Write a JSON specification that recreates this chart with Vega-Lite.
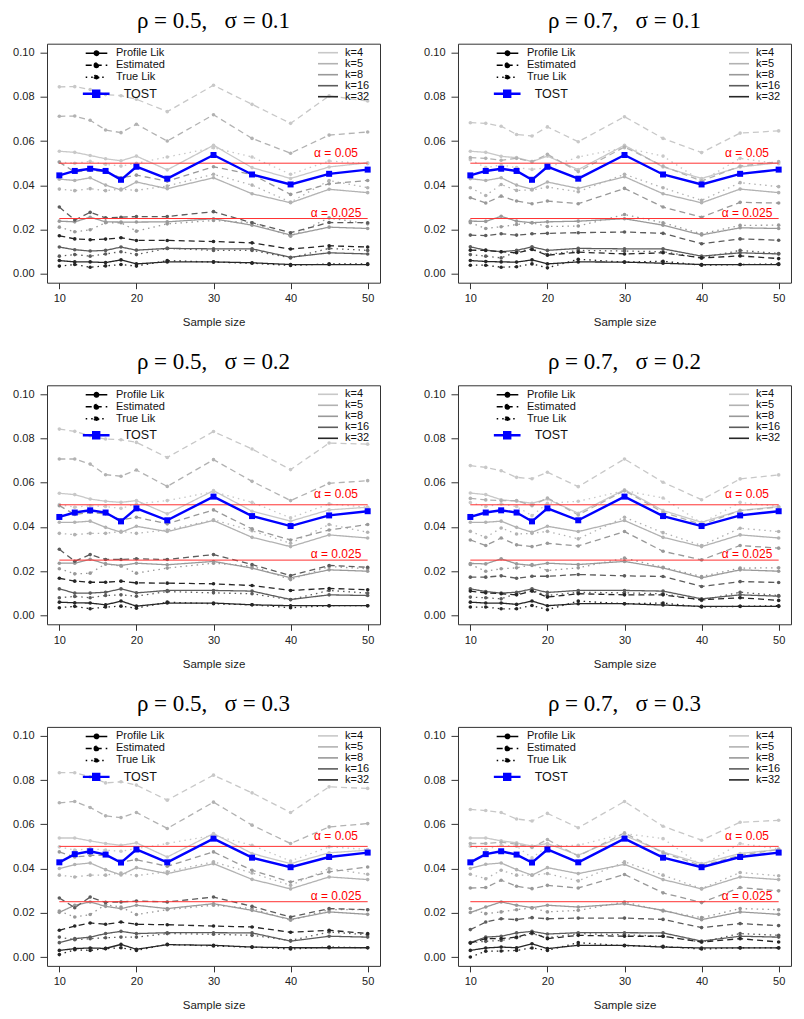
{
"$schema":"https://vega.github.io/schema/vega-lite/v6.json",
"padding":{"left":12,"top":8.7,"right":5,"bottom":0},
"datasets":{
"al":[{"a":0.05},{"a":0.025}],
"a1":[{"a":0.05,"lab":"α = 0.05"}],
"a2":[{"a":0.025,"lab":"α = 0.025"}],
"tA":[{"t":"TOST","n":10,"v":0.0445},{"t":"TOST","n":12,"v":0.0465},{"t":"TOST","n":14,"v":0.0475},{"t":"TOST","n":16,"v":0.0465},{"t":"TOST","n":18,"v":0.0425},{"t":"TOST","n":20,"v":0.0484},{"t":"TOST","n":24,"v":0.0430},{"t":"TOST","n":30,"v":0.0537},{"t":"TOST","n":35,"v":0.0449},{"t":"TOST","n":40,"v":0.0404},{"t":"TOST","n":45,"v":0.0452},{"t":"TOST","n":50,"v":0.0471}],
"tB":[{"t":"TOST","n":10,"v":0.0428},{"t":"TOST","n":12,"v":0.0465},{"t":"TOST","n":14,"v":0.0478},{"t":"TOST","n":16,"v":0.0463},{"t":"TOST","n":18,"v":0.0427},{"t":"TOST","n":20,"v":0.0486},{"t":"TOST","n":24,"v":0.0428},{"t":"TOST","n":30,"v":0.0535},{"t":"TOST","n":35,"v":0.0449},{"t":"TOST","n":40,"v":0.0406},{"t":"TOST","n":45,"v":0.0452},{"t":"TOST","n":50,"v":0.0472}],
"a":[
{"k":4,"m":"P","n":10,"v":0.0554},{"k":4,"m":"P","n":12,"v":0.0549},{"k":4,"m":"P","n":14,"v":0.0535},{"k":4,"m":"P","n":16,"v":0.0520},{"k":4,"m":"P","n":18,"v":0.0511},{"k":4,"m":"P","n":20,"v":0.0532},{"k":4,"m":"P","n":24,"v":0.0470},{"k":4,"m":"P","n":30,"v":0.0581},{"k":4,"m":"P","n":35,"v":0.0480},{"k":4,"m":"P","n":40,"v":0.0431},{"k":4,"m":"P","n":45,"v":0.0483},{"k":4,"m":"P","n":50,"v":0.0502},
{"k":4,"m":"E","n":10,"v":0.0845},{"k":4,"m":"E","n":12,"v":0.0846},{"k":4,"m":"E","n":14,"v":0.0833},{"k":4,"m":"E","n":16,"v":0.0810},{"k":4,"m":"E","n":18,"v":0.0805},{"k":4,"m":"E","n":20,"v":0.0789},{"k":4,"m":"E","n":24,"v":0.0733},{"k":4,"m":"E","n":30,"v":0.0852},{"k":4,"m":"E","n":35,"v":0.0766},{"k":4,"m":"E","n":40,"v":0.0680},{"k":4,"m":"E","n":45,"v":0.0804},{"k":4,"m":"E","n":50,"v":0.0781},
{"k":4,"m":"T","n":10,"v":0.0505},{"k":4,"m":"T","n":12,"v":0.0500},{"k":4,"m":"T","n":14,"v":0.0508},{"k":4,"m":"T","n":16,"v":0.0495},{"k":4,"m":"T","n":18,"v":0.0487},{"k":4,"m":"T","n":20,"v":0.0500},{"k":4,"m":"T","n":24,"v":0.0528},{"k":4,"m":"T","n":30,"v":0.0570},{"k":4,"m":"T","n":35,"v":0.0528},{"k":4,"m":"T","n":40,"v":0.0450},{"k":4,"m":"T","n":45,"v":0.0510},{"k":4,"m":"T","n":50,"v":0.0498},
{"k":5,"m":"P","n":10,"v":0.0428},{"k":5,"m":"P","n":12,"v":0.0422},{"k":5,"m":"P","n":14,"v":0.0434},{"k":5,"m":"P","n":16,"v":0.0401},{"k":5,"m":"P","n":18,"v":0.0379},{"k":5,"m":"P","n":20,"v":0.0415},{"k":5,"m":"P","n":24,"v":0.0385},{"k":5,"m":"P","n":30,"v":0.0434},{"k":5,"m":"P","n":35,"v":0.0362},{"k":5,"m":"P","n":40,"v":0.0321},{"k":5,"m":"P","n":45,"v":0.0382},{"k":5,"m":"P","n":50,"v":0.0367},
{"k":5,"m":"E","n":10,"v":0.0712},{"k":5,"m":"E","n":12,"v":0.0713},{"k":5,"m":"E","n":14,"v":0.0694},{"k":5,"m":"E","n":16,"v":0.0650},{"k":5,"m":"E","n":18,"v":0.0638},{"k":5,"m":"E","n":20,"v":0.0676},{"k":5,"m":"E","n":24,"v":0.0600},{"k":5,"m":"E","n":30,"v":0.0719},{"k":5,"m":"E","n":35,"v":0.0612},{"k":5,"m":"E","n":40,"v":0.0545},{"k":5,"m":"E","n":45,"v":0.0627},{"k":5,"m":"E","n":50,"v":0.0641},
{"k":5,"m":"T","n":10,"v":0.0383},{"k":5,"m":"T","n":12,"v":0.0376},{"k":5,"m":"T","n":14,"v":0.0385},{"k":5,"m":"T","n":16,"v":0.0376},{"k":5,"m":"T","n":18,"v":0.0383},{"k":5,"m":"T","n":20,"v":0.0377},{"k":5,"m":"T","n":24,"v":0.0397},{"k":5,"m":"T","n":30,"v":0.0450},{"k":5,"m":"T","n":35,"v":0.0401},{"k":5,"m":"T","n":40,"v":0.0324},{"k":5,"m":"T","n":45,"v":0.0422},{"k":5,"m":"T","n":50,"v":0.0389},
{"k":8,"m":"P","n":10,"v":0.0238},{"k":8,"m":"P","n":12,"v":0.0235},{"k":8,"m":"P","n":14,"v":0.0256},{"k":8,"m":"P","n":16,"v":0.0235},{"k":8,"m":"P","n":18,"v":0.0234},{"k":8,"m":"P","n":20,"v":0.0234},{"k":8,"m":"P","n":24,"v":0.0235},{"k":8,"m":"P","n":30,"v":0.0249},{"k":8,"m":"P","n":35,"v":0.0220},{"k":8,"m":"P","n":40,"v":0.0175},{"k":8,"m":"P","n":45,"v":0.0211},{"k":8,"m":"P","n":50,"v":0.0205},
{"k":8,"m":"E","n":10,"v":0.0505},{"k":8,"m":"E","n":12,"v":0.0460},{"k":8,"m":"E","n":14,"v":0.0468},{"k":8,"m":"E","n":16,"v":0.0462},{"k":8,"m":"E","n":18,"v":0.0434},{"k":8,"m":"E","n":20,"v":0.0446},{"k":8,"m":"E","n":24,"v":0.0419},{"k":8,"m":"E","n":30,"v":0.0484},{"k":8,"m":"E","n":35,"v":0.0449},{"k":8,"m":"E","n":40,"v":0.0359},{"k":8,"m":"E","n":45,"v":0.0407},{"k":8,"m":"E","n":50,"v":0.0422},
{"k":8,"m":"T","n":10,"v":0.0211},{"k":8,"m":"T","n":12,"v":0.0190},{"k":8,"m":"T","n":14,"v":0.0199},{"k":8,"m":"T","n":16,"v":0.0231},{"k":8,"m":"T","n":18,"v":0.0231},{"k":8,"m":"T","n":20,"v":0.0193},{"k":8,"m":"T","n":24,"v":0.0226},{"k":8,"m":"T","n":30,"v":0.0241},{"k":8,"m":"T","n":35,"v":0.0231},{"k":8,"m":"T","n":40,"v":0.0170},{"k":8,"m":"T","n":45,"v":0.0253},{"k":8,"m":"T","n":50,"v":0.0226},
{"k":16,"m":"P","n":10,"v":0.0121},{"k":16,"m":"P","n":12,"v":0.0109},{"k":16,"m":"P","n":14,"v":0.0103},{"k":16,"m":"P","n":16,"v":0.0106},{"k":16,"m":"P","n":18,"v":0.0121},{"k":16,"m":"P","n":20,"v":0.0107},{"k":16,"m":"P","n":24,"v":0.0115},{"k":16,"m":"P","n":30,"v":0.0113},{"k":16,"m":"P","n":35,"v":0.0113},{"k":16,"m":"P","n":40,"v":0.0075},{"k":16,"m":"P","n":45,"v":0.0095},{"k":16,"m":"P","n":50,"v":0.0090},
{"k":16,"m":"E","n":10,"v":0.0302},{"k":16,"m":"E","n":12,"v":0.0243},{"k":16,"m":"E","n":14,"v":0.0278},{"k":16,"m":"E","n":16,"v":0.0253},{"k":16,"m":"E","n":18,"v":0.0256},{"k":16,"m":"E","n":20,"v":0.0259},{"k":16,"m":"E","n":24,"v":0.0259},{"k":16,"m":"E","n":30,"v":0.0281},{"k":16,"m":"E","n":35,"v":0.0231},{"k":16,"m":"E","n":40,"v":0.0186},{"k":16,"m":"E","n":45,"v":0.0232},{"k":16,"m":"E","n":50,"v":0.0231},
{"k":16,"m":"T","n":10,"v":0.0080},{"k":16,"m":"T","n":12,"v":0.0087},{"k":16,"m":"T","n":14,"v":0.0080},{"k":16,"m":"T","n":16,"v":0.0090},{"k":16,"m":"T","n":18,"v":0.0100},{"k":16,"m":"T","n":20,"v":0.0087},{"k":16,"m":"T","n":24,"v":0.0115},{"k":16,"m":"T","n":30,"v":0.0106},{"k":16,"m":"T","n":35,"v":0.0106},{"k":16,"m":"T","n":40,"v":0.0072},{"k":16,"m":"T","n":45,"v":0.0115},{"k":16,"m":"T","n":50,"v":0.0106},
{"k":32,"m":"P","n":10,"v":0.0060},{"k":32,"m":"P","n":12,"v":0.0054},{"k":32,"m":"P","n":14,"v":0.0054},{"k":32,"m":"P","n":16,"v":0.0051},{"k":32,"m":"P","n":18,"v":0.0063},{"k":32,"m":"P","n":20,"v":0.0045},{"k":32,"m":"P","n":24,"v":0.0054},{"k":32,"m":"P","n":30,"v":0.0054},{"k":32,"m":"P","n":35,"v":0.0050},{"k":32,"m":"P","n":40,"v":0.0042},{"k":32,"m":"P","n":45,"v":0.0042},{"k":32,"m":"P","n":50,"v":0.0042},
{"k":32,"m":"E","n":10,"v":0.0172},{"k":32,"m":"E","n":12,"v":0.0158},{"k":32,"m":"E","n":14,"v":0.0154},{"k":32,"m":"E","n":16,"v":0.0157},{"k":32,"m":"E","n":18,"v":0.0163},{"k":32,"m":"E","n":20,"v":0.0151},{"k":32,"m":"E","n":24,"v":0.0151},{"k":32,"m":"E","n":30,"v":0.0146},{"k":32,"m":"E","n":35,"v":0.0140},{"k":32,"m":"E","n":40,"v":0.0112},{"k":32,"m":"E","n":45,"v":0.0127},{"k":32,"m":"E","n":50,"v":0.0121},
{"k":32,"m":"T","n":10,"v":0.0035},{"k":32,"m":"T","n":12,"v":0.0042},{"k":32,"m":"T","n":14,"v":0.0030},{"k":32,"m":"T","n":16,"v":0.0036},{"k":32,"m":"T","n":18,"v":0.0042},{"k":32,"m":"T","n":20,"v":0.0035},{"k":32,"m":"T","n":24,"v":0.0060},{"k":32,"m":"T","n":30,"v":0.0053},{"k":32,"m":"T","n":35,"v":0.0048},{"k":32,"m":"T","n":40,"v":0.0038},{"k":32,"m":"T","n":45,"v":0.0045},{"k":32,"m":"T","n":50,"v":0.0045}
],
"b":[
{"k":4,"m":"P","n":10,"v":0.0554},{"k":4,"m":"P","n":12,"v":0.0549},{"k":4,"m":"P","n":14,"v":0.0531},{"k":4,"m":"P","n":16,"v":0.0525},{"k":4,"m":"P","n":18,"v":0.0507},{"k":4,"m":"P","n":20,"v":0.0532},{"k":4,"m":"P","n":24,"v":0.0471},{"k":4,"m":"P","n":30,"v":0.0581},{"k":4,"m":"P","n":35,"v":0.0483},{"k":4,"m":"P","n":40,"v":0.0431},{"k":4,"m":"P","n":45,"v":0.0483},{"k":4,"m":"P","n":50,"v":0.0502},
{"k":4,"m":"E","n":10,"v":0.0683},{"k":4,"m":"E","n":12,"v":0.0680},{"k":4,"m":"E","n":14,"v":0.0667},{"k":4,"m":"E","n":16,"v":0.0630},{"k":4,"m":"E","n":18,"v":0.0623},{"k":4,"m":"E","n":20,"v":0.0664},{"k":4,"m":"E","n":24,"v":0.0597},{"k":4,"m":"E","n":30,"v":0.0710},{"k":4,"m":"E","n":35,"v":0.0612},{"k":4,"m":"E","n":40,"v":0.0548},{"k":4,"m":"E","n":45,"v":0.0636},{"k":4,"m":"E","n":50,"v":0.0646},
{"k":4,"m":"T","n":10,"v":0.0516},{"k":4,"m":"T","n":12,"v":0.0480},{"k":4,"m":"T","n":14,"v":0.0492},{"k":4,"m":"T","n":16,"v":0.0480},{"k":4,"m":"T","n":18,"v":0.0472},{"k":4,"m":"T","n":20,"v":0.0480},{"k":4,"m":"T","n":24,"v":0.0528},{"k":4,"m":"T","n":30,"v":0.0570},{"k":4,"m":"T","n":35,"v":0.0532},{"k":4,"m":"T","n":40,"v":0.0419},{"k":4,"m":"T","n":45,"v":0.0522},{"k":4,"m":"T","n":50,"v":0.0498},
{"k":5,"m":"P","n":10,"v":0.0430},{"k":5,"m":"P","n":12,"v":0.0422},{"k":5,"m":"P","n":14,"v":0.0434},{"k":5,"m":"P","n":16,"v":0.0401},{"k":5,"m":"P","n":18,"v":0.0382},{"k":5,"m":"P","n":20,"v":0.0415},{"k":5,"m":"P","n":24,"v":0.0386},{"k":5,"m":"P","n":30,"v":0.0439},{"k":5,"m":"P","n":35,"v":0.0362},{"k":5,"m":"P","n":40,"v":0.0321},{"k":5,"m":"P","n":45,"v":0.0383},{"k":5,"m":"P","n":50,"v":0.0367},
{"k":5,"m":"E","n":10,"v":0.0525},{"k":5,"m":"E","n":12,"v":0.0522},{"k":5,"m":"E","n":14,"v":0.0513},{"k":5,"m":"E","n":16,"v":0.0522},{"k":5,"m":"E","n":18,"v":0.0507},{"k":5,"m":"E","n":20,"v":0.0540},{"k":5,"m":"E","n":24,"v":0.0462},{"k":5,"m":"E","n":30,"v":0.0573},{"k":5,"m":"E","n":35,"v":0.0487},{"k":5,"m":"E","n":40,"v":0.0419},{"k":5,"m":"E","n":45,"v":0.0487},{"k":5,"m":"E","n":50,"v":0.0507},
{"k":5,"m":"T","n":10,"v":0.0389},{"k":5,"m":"T","n":12,"v":0.0354},{"k":5,"m":"T","n":14,"v":0.0404},{"k":5,"m":"T","n":16,"v":0.0377},{"k":5,"m":"T","n":18,"v":0.0379},{"k":5,"m":"T","n":20,"v":0.0392},{"k":5,"m":"T","n":24,"v":0.0371},{"k":5,"m":"T","n":30,"v":0.0450},{"k":5,"m":"T","n":35,"v":0.0389},{"k":5,"m":"T","n":40,"v":0.0332},{"k":5,"m":"T","n":45,"v":0.0412},{"k":5,"m":"T","n":50,"v":0.0394},
{"k":8,"m":"P","n":10,"v":0.0238},{"k":8,"m":"P","n":12,"v":0.0237},{"k":8,"m":"P","n":14,"v":0.0260},{"k":8,"m":"P","n":16,"v":0.0238},{"k":8,"m":"P","n":18,"v":0.0231},{"k":8,"m":"P","n":20,"v":0.0235},{"k":8,"m":"P","n":24,"v":0.0238},{"k":8,"m":"P","n":30,"v":0.0249},{"k":8,"m":"P","n":35,"v":0.0220},{"k":8,"m":"P","n":40,"v":0.0176},{"k":8,"m":"P","n":45,"v":0.0208},{"k":8,"m":"P","n":50,"v":0.0205},
{"k":8,"m":"E","n":10,"v":0.0344},{"k":8,"m":"E","n":12,"v":0.0320},{"k":8,"m":"E","n":14,"v":0.0351},{"k":8,"m":"E","n":16,"v":0.0329},{"k":8,"m":"E","n":18,"v":0.0317},{"k":8,"m":"E","n":20,"v":0.0329},{"k":8,"m":"E","n":24,"v":0.0317},{"k":8,"m":"E","n":30,"v":0.0386},{"k":8,"m":"E","n":35,"v":0.0302},{"k":8,"m":"E","n":40,"v":0.0256},{"k":8,"m":"E","n":45,"v":0.0323},{"k":8,"m":"E","n":50,"v":0.0320},
{"k":8,"m":"T","n":10,"v":0.0231},{"k":8,"m":"T","n":12,"v":0.0205},{"k":8,"m":"T","n":14,"v":0.0213},{"k":8,"m":"T","n":16,"v":0.0223},{"k":8,"m":"T","n":18,"v":0.0231},{"k":8,"m":"T","n":20,"v":0.0214},{"k":8,"m":"T","n":24,"v":0.0216},{"k":8,"m":"T","n":30,"v":0.0268},{"k":8,"m":"T","n":35,"v":0.0231},{"k":8,"m":"T","n":40,"v":0.0181},{"k":8,"m":"T","n":45,"v":0.0219},{"k":8,"m":"T","n":50,"v":0.0220},
{"k":16,"m":"P","n":10,"v":0.0122},{"k":16,"m":"P","n":12,"v":0.0107},{"k":16,"m":"P","n":14,"v":0.0100},{"k":16,"m":"P","n":16,"v":0.0106},{"k":16,"m":"P","n":18,"v":0.0122},{"k":16,"m":"P","n":20,"v":0.0106},{"k":16,"m":"P","n":24,"v":0.0115},{"k":16,"m":"P","n":30,"v":0.0113},{"k":16,"m":"P","n":35,"v":0.0113},{"k":16,"m":"P","n":40,"v":0.0080},{"k":16,"m":"P","n":45,"v":0.0095},{"k":16,"m":"P","n":50,"v":0.0090},
{"k":16,"m":"E","n":10,"v":0.0175},{"k":16,"m":"E","n":12,"v":0.0173},{"k":16,"m":"E","n":14,"v":0.0181},{"k":16,"m":"E","n":16,"v":0.0175},{"k":16,"m":"E","n":18,"v":0.0181},{"k":16,"m":"E","n":20,"v":0.0183},{"k":16,"m":"E","n":24,"v":0.0186},{"k":16,"m":"E","n":30,"v":0.0189},{"k":16,"m":"E","n":35,"v":0.0183},{"k":16,"m":"E","n":40,"v":0.0136},{"k":16,"m":"E","n":45,"v":0.0158},{"k":16,"m":"E","n":50,"v":0.0152},
{"k":16,"m":"T","n":10,"v":0.0087},{"k":16,"m":"T","n":12,"v":0.0080},{"k":16,"m":"T","n":14,"v":0.0072},{"k":16,"m":"T","n":16,"v":0.0100},{"k":16,"m":"T","n":18,"v":0.0113},{"k":16,"m":"T","n":20,"v":0.0087},{"k":16,"m":"T","n":24,"v":0.0106},{"k":16,"m":"T","n":30,"v":0.0103},{"k":16,"m":"T","n":35,"v":0.0100},{"k":16,"m":"T","n":40,"v":0.0072},{"k":16,"m":"T","n":45,"v":0.0106},{"k":16,"m":"T","n":50,"v":0.0092},
{"k":32,"m":"P","n":10,"v":0.0060},{"k":32,"m":"P","n":12,"v":0.0056},{"k":32,"m":"P","n":14,"v":0.0054},{"k":32,"m":"P","n":16,"v":0.0053},{"k":32,"m":"P","n":18,"v":0.0063},{"k":32,"m":"P","n":20,"v":0.0045},{"k":32,"m":"P","n":24,"v":0.0054},{"k":32,"m":"P","n":30,"v":0.0053},{"k":32,"m":"P","n":35,"v":0.0048},{"k":32,"m":"P","n":40,"v":0.0042},{"k":32,"m":"P","n":45,"v":0.0042},{"k":32,"m":"P","n":50,"v":0.0042},
{"k":32,"m":"E","n":10,"v":0.0107},{"k":32,"m":"E","n":12,"v":0.0106},{"k":32,"m":"E","n":14,"v":0.0100},{"k":32,"m":"E","n":16,"v":0.0095},{"k":32,"m":"E","n":18,"v":0.0110},{"k":32,"m":"E","n":20,"v":0.0084},{"k":32,"m":"E","n":24,"v":0.0098},{"k":32,"m":"E","n":30,"v":0.0090},{"k":32,"m":"E","n":35,"v":0.0095},{"k":32,"m":"E","n":40,"v":0.0072},{"k":32,"m":"E","n":45,"v":0.0081},{"k":32,"m":"E","n":50,"v":0.0069},
{"k":32,"m":"T","n":10,"v":0.0039},{"k":32,"m":"T","n":12,"v":0.0039},{"k":32,"m":"T","n":14,"v":0.0030},{"k":32,"m":"T","n":16,"v":0.0032},{"k":32,"m":"T","n":18,"v":0.0045},{"k":32,"m":"T","n":20,"v":0.0027},{"k":32,"m":"T","n":24,"v":0.0066},{"k":32,"m":"T","n":30,"v":0.0053},{"k":32,"m":"T","n":35,"v":0.0057},{"k":32,"m":"T","n":40,"v":0.0039},{"k":32,"m":"T","n":45,"v":0.0042},{"k":32,"m":"T","n":50,"v":0.0045}
],
"c":[
{"k":4,"m":"P","n":10,"v":0.0552},{"k":4,"m":"P","n":12,"v":0.0546},{"k":4,"m":"P","n":14,"v":0.0526},{"k":4,"m":"P","n":16,"v":0.0516},{"k":4,"m":"P","n":18,"v":0.0511},{"k":4,"m":"P","n":20,"v":0.0519},{"k":4,"m":"P","n":24,"v":0.0459},{"k":4,"m":"P","n":30,"v":0.0564},{"k":4,"m":"P","n":35,"v":0.0471},{"k":4,"m":"P","n":40,"v":0.0426},{"k":4,"m":"P","n":45,"v":0.0477},{"k":4,"m":"P","n":50,"v":0.0489},
{"k":4,"m":"E","n":10,"v":0.0842},{"k":4,"m":"E","n":12,"v":0.0832},{"k":4,"m":"E","n":14,"v":0.0812},{"k":4,"m":"E","n":16,"v":0.0797},{"k":4,"m":"E","n":18,"v":0.0794},{"k":4,"m":"E","n":20,"v":0.0782},{"k":4,"m":"E","n":24,"v":0.0714},{"k":4,"m":"E","n":30,"v":0.0831},{"k":4,"m":"E","n":35,"v":0.0752},{"k":4,"m":"E","n":40,"v":0.0659},{"k":4,"m":"E","n":45,"v":0.0779},{"k":4,"m":"E","n":50,"v":0.0774},
{"k":4,"m":"T","n":10,"v":0.0501},{"k":4,"m":"T","n":12,"v":0.0489},{"k":4,"m":"T","n":14,"v":0.0496},{"k":4,"m":"T","n":16,"v":0.0492},{"k":4,"m":"T","n":18,"v":0.0484},{"k":4,"m":"T","n":20,"v":0.0504},{"k":4,"m":"T","n":24,"v":0.0519},{"k":4,"m":"T","n":30,"v":0.0559},{"k":4,"m":"T","n":35,"v":0.0511},{"k":4,"m":"T","n":40,"v":0.0441},{"k":4,"m":"T","n":45,"v":0.0504},{"k":4,"m":"T","n":50,"v":0.0489},
{"k":5,"m":"P","n":10,"v":0.0421},{"k":5,"m":"P","n":12,"v":0.0421},{"k":5,"m":"P","n":14,"v":0.0426},{"k":5,"m":"P","n":16,"v":0.0398},{"k":5,"m":"P","n":18,"v":0.0376},{"k":5,"m":"P","n":20,"v":0.0403},{"k":5,"m":"P","n":24,"v":0.0379},{"k":5,"m":"P","n":30,"v":0.0429},{"k":5,"m":"P","n":35,"v":0.0353},{"k":5,"m":"P","n":40,"v":0.0311},{"k":5,"m":"P","n":45,"v":0.0364},{"k":5,"m":"P","n":50,"v":0.0350},
{"k":5,"m":"E","n":10,"v":0.0707},{"k":5,"m":"E","n":12,"v":0.0707},{"k":5,"m":"E","n":14,"v":0.0684},{"k":5,"m":"E","n":16,"v":0.0636},{"k":5,"m":"E","n":18,"v":0.0629},{"k":5,"m":"E","n":20,"v":0.0657},{"k":5,"m":"E","n":24,"v":0.0583},{"k":5,"m":"E","n":30,"v":0.0704},{"k":5,"m":"E","n":35,"v":0.0606},{"k":5,"m":"E","n":40,"v":0.0519},{"k":5,"m":"E","n":45,"v":0.0597},{"k":5,"m":"E","n":50,"v":0.0609},
{"k":5,"m":"T","n":10,"v":0.0371},{"k":5,"m":"T","n":12,"v":0.0365},{"k":5,"m":"T","n":14,"v":0.0371},{"k":5,"m":"T","n":16,"v":0.0371},{"k":5,"m":"T","n":18,"v":0.0380},{"k":5,"m":"T","n":20,"v":0.0371},{"k":5,"m":"T","n":24,"v":0.0386},{"k":5,"m":"T","n":30,"v":0.0432},{"k":5,"m":"T","n":35,"v":0.0383},{"k":5,"m":"T","n":40,"v":0.0326},{"k":5,"m":"T","n":45,"v":0.0411},{"k":5,"m":"T","n":50,"v":0.0376},
{"k":8,"m":"P","n":10,"v":0.0236},{"k":8,"m":"P","n":12,"v":0.0236},{"k":8,"m":"P","n":14,"v":0.0254},{"k":8,"m":"P","n":16,"v":0.0233},{"k":8,"m":"P","n":18,"v":0.0226},{"k":8,"m":"P","n":20,"v":0.0236},{"k":8,"m":"P","n":24,"v":0.0229},{"k":8,"m":"P","n":30,"v":0.0244},{"k":8,"m":"P","n":35,"v":0.0214},{"k":8,"m":"P","n":40,"v":0.0170},{"k":8,"m":"P","n":45,"v":0.0206},{"k":8,"m":"P","n":50,"v":0.0200},
{"k":8,"m":"E","n":10,"v":0.0496},{"k":8,"m":"E","n":12,"v":0.0456},{"k":8,"m":"E","n":14,"v":0.0466},{"k":8,"m":"E","n":16,"v":0.0459},{"k":8,"m":"E","n":18,"v":0.0432},{"k":8,"m":"E","n":20,"v":0.0444},{"k":8,"m":"E","n":24,"v":0.0414},{"k":8,"m":"E","n":30,"v":0.0477},{"k":8,"m":"E","n":35,"v":0.0391},{"k":8,"m":"E","n":40,"v":0.0341},{"k":8,"m":"E","n":45,"v":0.0386},{"k":8,"m":"E","n":50,"v":0.0411},
{"k":8,"m":"T","n":10,"v":0.0211},{"k":8,"m":"T","n":12,"v":0.0188},{"k":8,"m":"T","n":14,"v":0.0191},{"k":8,"m":"T","n":16,"v":0.0233},{"k":8,"m":"T","n":18,"v":0.0223},{"k":8,"m":"T","n":20,"v":0.0191},{"k":8,"m":"T","n":24,"v":0.0214},{"k":8,"m":"T","n":30,"v":0.0236},{"k":8,"m":"T","n":35,"v":0.0223},{"k":8,"m":"T","n":40,"v":0.0162},{"k":8,"m":"T","n":45,"v":0.0221},{"k":8,"m":"T","n":50,"v":0.0211},
{"k":16,"m":"P","n":10,"v":0.0120},{"k":16,"m":"P","n":12,"v":0.0101},{"k":16,"m":"P","n":14,"v":0.0101},{"k":16,"m":"P","n":16,"v":0.0105},{"k":16,"m":"P","n":18,"v":0.0120},{"k":16,"m":"P","n":20,"v":0.0102},{"k":16,"m":"P","n":24,"v":0.0113},{"k":16,"m":"P","n":30,"v":0.0113},{"k":16,"m":"P","n":35,"v":0.0110},{"k":16,"m":"P","n":40,"v":0.0072},{"k":16,"m":"P","n":45,"v":0.0093},{"k":16,"m":"P","n":50,"v":0.0090},
{"k":16,"m":"E","n":10,"v":0.0299},{"k":16,"m":"E","n":12,"v":0.0245},{"k":16,"m":"E","n":14,"v":0.0275},{"k":16,"m":"E","n":16,"v":0.0253},{"k":16,"m":"E","n":18,"v":0.0253},{"k":16,"m":"E","n":20,"v":0.0256},{"k":16,"m":"E","n":24,"v":0.0253},{"k":16,"m":"E","n":30,"v":0.0275},{"k":16,"m":"E","n":35,"v":0.0230},{"k":16,"m":"E","n":40,"v":0.0180},{"k":16,"m":"E","n":45,"v":0.0226},{"k":16,"m":"E","n":50,"v":0.0218},
{"k":16,"m":"T","n":10,"v":0.0080},{"k":16,"m":"T","n":12,"v":0.0086},{"k":16,"m":"T","n":14,"v":0.0080},{"k":16,"m":"T","n":16,"v":0.0090},{"k":16,"m":"T","n":18,"v":0.0093},{"k":16,"m":"T","n":20,"v":0.0087},{"k":16,"m":"T","n":24,"v":0.0108},{"k":16,"m":"T","n":30,"v":0.0102},{"k":16,"m":"T","n":35,"v":0.0098},{"k":16,"m":"T","n":40,"v":0.0071},{"k":16,"m":"T","n":45,"v":0.0113},{"k":16,"m":"T","n":50,"v":0.0101},
{"k":32,"m":"P","n":10,"v":0.0060},{"k":32,"m":"P","n":12,"v":0.0057},{"k":32,"m":"P","n":14,"v":0.0056},{"k":32,"m":"P","n":16,"v":0.0048},{"k":32,"m":"P","n":18,"v":0.0065},{"k":32,"m":"P","n":20,"v":0.0042},{"k":32,"m":"P","n":24,"v":0.0056},{"k":32,"m":"P","n":30,"v":0.0056},{"k":32,"m":"P","n":35,"v":0.0048},{"k":32,"m":"P","n":40,"v":0.0044},{"k":32,"m":"P","n":45,"v":0.0044},{"k":32,"m":"P","n":50,"v":0.0044},
{"k":32,"m":"E","n":10,"v":0.0168},{"k":32,"m":"E","n":12,"v":0.0155},{"k":32,"m":"E","n":14,"v":0.0150},{"k":32,"m":"E","n":16,"v":0.0150},{"k":32,"m":"E","n":18,"v":0.0155},{"k":32,"m":"E","n":20,"v":0.0147},{"k":32,"m":"E","n":24,"v":0.0146},{"k":32,"m":"E","n":30,"v":0.0143},{"k":32,"m":"E","n":35,"v":0.0135},{"k":32,"m":"E","n":40,"v":0.0113},{"k":32,"m":"E","n":45,"v":0.0122},{"k":32,"m":"E","n":50,"v":0.0116},
{"k":32,"m":"T","n":10,"v":0.0035},{"k":32,"m":"T","n":12,"v":0.0041},{"k":32,"m":"T","n":14,"v":0.0030},{"k":32,"m":"T","n":16,"v":0.0038},{"k":32,"m":"T","n":18,"v":0.0042},{"k":32,"m":"T","n":20,"v":0.0033},{"k":32,"m":"T","n":24,"v":0.0060},{"k":32,"m":"T","n":30,"v":0.0053},{"k":32,"m":"T","n":35,"v":0.0048},{"k":32,"m":"T","n":40,"v":0.0035},{"k":32,"m":"T","n":45,"v":0.0044},{"k":32,"m":"T","n":50,"v":0.0044}
],
"d":[
{"k":4,"m":"P","n":10,"v":0.0553},{"k":4,"m":"P","n":12,"v":0.0546},{"k":4,"m":"P","n":14,"v":0.0523},{"k":4,"m":"P","n":16,"v":0.0516},{"k":4,"m":"P","n":18,"v":0.0507},{"k":4,"m":"P","n":20,"v":0.0526},{"k":4,"m":"P","n":24,"v":0.0462},{"k":4,"m":"P","n":30,"v":0.0568},{"k":4,"m":"P","n":35,"v":0.0474},{"k":4,"m":"P","n":40,"v":0.0421},{"k":4,"m":"P","n":45,"v":0.0474},{"k":4,"m":"P","n":50,"v":0.0492},
{"k":4,"m":"E","n":10,"v":0.0677},{"k":4,"m":"E","n":12,"v":0.0669},{"k":4,"m":"E","n":14,"v":0.0654},{"k":4,"m":"E","n":16,"v":0.0624},{"k":4,"m":"E","n":18,"v":0.0618},{"k":4,"m":"E","n":20,"v":0.0647},{"k":4,"m":"E","n":24,"v":0.0582},{"k":4,"m":"E","n":30,"v":0.0707},{"k":4,"m":"E","n":35,"v":0.0602},{"k":4,"m":"E","n":40,"v":0.0523},{"k":4,"m":"E","n":45,"v":0.0617},{"k":4,"m":"E","n":50,"v":0.0635},
{"k":4,"m":"T","n":10,"v":0.0510},{"k":4,"m":"T","n":12,"v":0.0492},{"k":4,"m":"T","n":14,"v":0.0504},{"k":4,"m":"T","n":16,"v":0.0492},{"k":4,"m":"T","n":18,"v":0.0451},{"k":4,"m":"T","n":20,"v":0.0507},{"k":4,"m":"T","n":24,"v":0.0516},{"k":4,"m":"T","n":30,"v":0.0564},{"k":4,"m":"T","n":35,"v":0.0531},{"k":4,"m":"T","n":40,"v":0.0417},{"k":4,"m":"T","n":45,"v":0.0511},{"k":4,"m":"T","n":50,"v":0.0492},
{"k":5,"m":"P","n":10,"v":0.0421},{"k":5,"m":"P","n":12,"v":0.0421},{"k":5,"m":"P","n":14,"v":0.0426},{"k":5,"m":"P","n":16,"v":0.0398},{"k":5,"m":"P","n":18,"v":0.0376},{"k":5,"m":"P","n":20,"v":0.0403},{"k":5,"m":"P","n":24,"v":0.0379},{"k":5,"m":"P","n":30,"v":0.0429},{"k":5,"m":"P","n":35,"v":0.0353},{"k":5,"m":"P","n":40,"v":0.0311},{"k":5,"m":"P","n":45,"v":0.0364},{"k":5,"m":"P","n":50,"v":0.0350},
{"k":5,"m":"E","n":10,"v":0.0529},{"k":5,"m":"E","n":12,"v":0.0522},{"k":5,"m":"E","n":14,"v":0.0519},{"k":5,"m":"E","n":16,"v":0.0519},{"k":5,"m":"E","n":18,"v":0.0496},{"k":5,"m":"E","n":20,"v":0.0531},{"k":5,"m":"E","n":24,"v":0.0454},{"k":5,"m":"E","n":30,"v":0.0564},{"k":5,"m":"E","n":35,"v":0.0466},{"k":5,"m":"E","n":40,"v":0.0411},{"k":5,"m":"E","n":45,"v":0.0474},{"k":5,"m":"E","n":50,"v":0.0489},
{"k":5,"m":"T","n":10,"v":0.0380},{"k":5,"m":"T","n":12,"v":0.0353},{"k":5,"m":"T","n":14,"v":0.0395},{"k":5,"m":"T","n":16,"v":0.0368},{"k":5,"m":"T","n":18,"v":0.0371},{"k":5,"m":"T","n":20,"v":0.0380},{"k":5,"m":"T","n":24,"v":0.0346},{"k":5,"m":"T","n":30,"v":0.0444},{"k":5,"m":"T","n":35,"v":0.0374},{"k":5,"m":"T","n":40,"v":0.0316},{"k":5,"m":"T","n":45,"v":0.0394},{"k":5,"m":"T","n":50,"v":0.0379},
{"k":8,"m":"P","n":10,"v":0.0235},{"k":8,"m":"P","n":12,"v":0.0233},{"k":8,"m":"P","n":14,"v":0.0256},{"k":8,"m":"P","n":16,"v":0.0233},{"k":8,"m":"P","n":18,"v":0.0226},{"k":8,"m":"P","n":20,"v":0.0236},{"k":8,"m":"P","n":24,"v":0.0230},{"k":8,"m":"P","n":30,"v":0.0244},{"k":8,"m":"P","n":35,"v":0.0215},{"k":8,"m":"P","n":40,"v":0.0170},{"k":8,"m":"P","n":45,"v":0.0206},{"k":8,"m":"P","n":50,"v":0.0200},
{"k":8,"m":"E","n":10,"v":0.0341},{"k":8,"m":"E","n":12,"v":0.0316},{"k":8,"m":"E","n":14,"v":0.0350},{"k":8,"m":"E","n":16,"v":0.0319},{"k":8,"m":"E","n":18,"v":0.0311},{"k":8,"m":"E","n":20,"v":0.0326},{"k":8,"m":"E","n":24,"v":0.0314},{"k":8,"m":"E","n":30,"v":0.0379},{"k":8,"m":"E","n":35,"v":0.0290},{"k":8,"m":"E","n":40,"v":0.0251},{"k":8,"m":"E","n":45,"v":0.0316},{"k":8,"m":"E","n":50,"v":0.0304},
{"k":8,"m":"T","n":10,"v":0.0230},{"k":8,"m":"T","n":12,"v":0.0200},{"k":8,"m":"T","n":14,"v":0.0211},{"k":8,"m":"T","n":16,"v":0.0215},{"k":8,"m":"T","n":18,"v":0.0230},{"k":8,"m":"T","n":20,"v":0.0203},{"k":8,"m":"T","n":24,"v":0.0215},{"k":8,"m":"T","n":30,"v":0.0259},{"k":8,"m":"T","n":35,"v":0.0218},{"k":8,"m":"T","n":40,"v":0.0176},{"k":8,"m":"T","n":45,"v":0.0214},{"k":8,"m":"T","n":50,"v":0.0215},
{"k":16,"m":"P","n":10,"v":0.0120},{"k":16,"m":"P","n":12,"v":0.0108},{"k":16,"m":"P","n":14,"v":0.0101},{"k":16,"m":"P","n":16,"v":0.0105},{"k":16,"m":"P","n":18,"v":0.0120},{"k":16,"m":"P","n":20,"v":0.0104},{"k":16,"m":"P","n":24,"v":0.0113},{"k":16,"m":"P","n":30,"v":0.0113},{"k":16,"m":"P","n":35,"v":0.0110},{"k":16,"m":"P","n":40,"v":0.0075},{"k":16,"m":"P","n":45,"v":0.0093},{"k":16,"m":"P","n":50,"v":0.0087},
{"k":16,"m":"E","n":10,"v":0.0173},{"k":16,"m":"E","n":12,"v":0.0173},{"k":16,"m":"E","n":14,"v":0.0179},{"k":16,"m":"E","n":16,"v":0.0168},{"k":16,"m":"E","n":18,"v":0.0177},{"k":16,"m":"E","n":20,"v":0.0177},{"k":16,"m":"E","n":24,"v":0.0185},{"k":16,"m":"E","n":30,"v":0.0179},{"k":16,"m":"E","n":35,"v":0.0176},{"k":16,"m":"E","n":40,"v":0.0131},{"k":16,"m":"E","n":45,"v":0.0153},{"k":16,"m":"E","n":50,"v":0.0149},
{"k":16,"m":"T","n":10,"v":0.0083},{"k":16,"m":"T","n":12,"v":0.0080},{"k":16,"m":"T","n":14,"v":0.0075},{"k":16,"m":"T","n":16,"v":0.0098},{"k":16,"m":"T","n":18,"v":0.0113},{"k":16,"m":"T","n":20,"v":0.0090},{"k":16,"m":"T","n":24,"v":0.0105},{"k":16,"m":"T","n":30,"v":0.0102},{"k":16,"m":"T","n":35,"v":0.0098},{"k":16,"m":"T","n":40,"v":0.0068},{"k":16,"m":"T","n":45,"v":0.0105},{"k":16,"m":"T","n":50,"v":0.0090},
{"k":32,"m":"P","n":10,"v":0.0060},{"k":32,"m":"P","n":12,"v":0.0056},{"k":32,"m":"P","n":14,"v":0.0056},{"k":32,"m":"P","n":16,"v":0.0050},{"k":32,"m":"P","n":18,"v":0.0065},{"k":32,"m":"P","n":20,"v":0.0044},{"k":32,"m":"P","n":24,"v":0.0053},{"k":32,"m":"P","n":30,"v":0.0053},{"k":32,"m":"P","n":35,"v":0.0047},{"k":32,"m":"P","n":40,"v":0.0041},{"k":32,"m":"P","n":45,"v":0.0041},{"k":32,"m":"P","n":50,"v":0.0041},
{"k":32,"m":"E","n":10,"v":0.0110},{"k":32,"m":"E","n":12,"v":0.0102},{"k":32,"m":"E","n":14,"v":0.0098},{"k":32,"m":"E","n":16,"v":0.0093},{"k":32,"m":"E","n":18,"v":0.0110},{"k":32,"m":"E","n":20,"v":0.0083},{"k":32,"m":"E","n":24,"v":0.0098},{"k":32,"m":"E","n":30,"v":0.0093},{"k":32,"m":"E","n":35,"v":0.0093},{"k":32,"m":"E","n":40,"v":0.0071},{"k":32,"m":"E","n":45,"v":0.0080},{"k":32,"m":"E","n":50,"v":0.0068},
{"k":32,"m":"T","n":10,"v":0.0038},{"k":32,"m":"T","n":12,"v":0.0038},{"k":32,"m":"T","n":14,"v":0.0030},{"k":32,"m":"T","n":16,"v":0.0030},{"k":32,"m":"T","n":18,"v":0.0045},{"k":32,"m":"T","n":20,"v":0.0026},{"k":32,"m":"T","n":24,"v":0.0065},{"k":32,"m":"T","n":30,"v":0.0053},{"k":32,"m":"T","n":35,"v":0.0056},{"k":32,"m":"T","n":40,"v":0.0038},{"k":32,"m":"T","n":45,"v":0.0041},{"k":32,"m":"T","n":50,"v":0.0044}
],
"e":[
{"k":4,"m":"P","n":10,"v":0.0538},{"k":4,"m":"P","n":12,"v":0.0538},{"k":4,"m":"P","n":14,"v":0.0525},{"k":4,"m":"P","n":16,"v":0.0513},{"k":4,"m":"P","n":18,"v":0.0505},{"k":4,"m":"P","n":20,"v":0.0516},{"k":4,"m":"P","n":24,"v":0.0452},{"k":4,"m":"P","n":30,"v":0.0558},{"k":4,"m":"P","n":35,"v":0.0468},{"k":4,"m":"P","n":40,"v":0.0422},{"k":4,"m":"P","n":45,"v":0.0471},{"k":4,"m":"P","n":50,"v":0.0483},
{"k":4,"m":"E","n":10,"v":0.0833},{"k":4,"m":"E","n":12,"v":0.0833},{"k":4,"m":"E","n":14,"v":0.0814},{"k":4,"m":"E","n":16,"v":0.0787},{"k":4,"m":"E","n":18,"v":0.0792},{"k":4,"m":"E","n":20,"v":0.0777},{"k":4,"m":"E","n":24,"v":0.0709},{"k":4,"m":"E","n":30,"v":0.0822},{"k":4,"m":"E","n":35,"v":0.0742},{"k":4,"m":"E","n":40,"v":0.0653},{"k":4,"m":"E","n":45,"v":0.0769},{"k":4,"m":"E","n":50,"v":0.0762},
{"k":4,"m":"T","n":10,"v":0.0498},{"k":4,"m":"T","n":12,"v":0.0483},{"k":4,"m":"T","n":14,"v":0.0490},{"k":4,"m":"T","n":16,"v":0.0483},{"k":4,"m":"T","n":18,"v":0.0478},{"k":4,"m":"T","n":20,"v":0.0490},{"k":4,"m":"T","n":24,"v":0.0513},{"k":4,"m":"T","n":30,"v":0.0550},{"k":4,"m":"T","n":35,"v":0.0505},{"k":4,"m":"T","n":40,"v":0.0434},{"k":4,"m":"T","n":45,"v":0.0498},{"k":4,"m":"T","n":50,"v":0.0486},
{"k":5,"m":"P","n":10,"v":0.0400},{"k":5,"m":"P","n":12,"v":0.0418},{"k":5,"m":"P","n":14,"v":0.0425},{"k":5,"m":"P","n":16,"v":0.0395},{"k":5,"m":"P","n":18,"v":0.0371},{"k":5,"m":"P","n":20,"v":0.0404},{"k":5,"m":"P","n":24,"v":0.0377},{"k":5,"m":"P","n":30,"v":0.0422},{"k":5,"m":"P","n":35,"v":0.0351},{"k":5,"m":"P","n":40,"v":0.0308},{"k":5,"m":"P","n":45,"v":0.0362},{"k":5,"m":"P","n":50,"v":0.0350},
{"k":5,"m":"E","n":10,"v":0.0697},{"k":5,"m":"E","n":12,"v":0.0703},{"k":5,"m":"E","n":14,"v":0.0676},{"k":5,"m":"E","n":16,"v":0.0638},{"k":5,"m":"E","n":18,"v":0.0630},{"k":5,"m":"E","n":20,"v":0.0653},{"k":5,"m":"E","n":24,"v":0.0581},{"k":5,"m":"E","n":30,"v":0.0700},{"k":5,"m":"E","n":35,"v":0.0596},{"k":5,"m":"E","n":40,"v":0.0513},{"k":5,"m":"E","n":45,"v":0.0588},{"k":5,"m":"E","n":50,"v":0.0603},
{"k":5,"m":"T","n":10,"v":0.0370},{"k":5,"m":"T","n":12,"v":0.0362},{"k":5,"m":"T","n":14,"v":0.0370},{"k":5,"m":"T","n":16,"v":0.0370},{"k":5,"m":"T","n":18,"v":0.0380},{"k":5,"m":"T","n":20,"v":0.0368},{"k":5,"m":"T","n":24,"v":0.0385},{"k":5,"m":"T","n":30,"v":0.0430},{"k":5,"m":"T","n":35,"v":0.0380},{"k":5,"m":"T","n":40,"v":0.0324},{"k":5,"m":"T","n":45,"v":0.0400},{"k":5,"m":"T","n":50,"v":0.0374},
{"k":8,"m":"P","n":10,"v":0.0202},{"k":8,"m":"P","n":12,"v":0.0234},{"k":8,"m":"P","n":14,"v":0.0249},{"k":8,"m":"P","n":16,"v":0.0229},{"k":8,"m":"P","n":18,"v":0.0219},{"k":8,"m":"P","n":20,"v":0.0234},{"k":8,"m":"P","n":24,"v":0.0219},{"k":8,"m":"P","n":30,"v":0.0241},{"k":8,"m":"P","n":35,"v":0.0211},{"k":8,"m":"P","n":40,"v":0.0170},{"k":8,"m":"P","n":45,"v":0.0204},{"k":8,"m":"P","n":50,"v":0.0193},
{"k":8,"m":"E","n":10,"v":0.0475},{"k":8,"m":"E","n":12,"v":0.0452},{"k":8,"m":"E","n":14,"v":0.0459},{"k":8,"m":"E","n":16,"v":0.0460},{"k":8,"m":"E","n":18,"v":0.0430},{"k":8,"m":"E","n":20,"v":0.0440},{"k":8,"m":"E","n":24,"v":0.0410},{"k":8,"m":"E","n":30,"v":0.0475},{"k":8,"m":"E","n":35,"v":0.0392},{"k":8,"m":"E","n":40,"v":0.0339},{"k":8,"m":"E","n":45,"v":0.0385},{"k":8,"m":"E","n":50,"v":0.0407},
{"k":8,"m":"T","n":10,"v":0.0208},{"k":8,"m":"T","n":12,"v":0.0181},{"k":8,"m":"T","n":14,"v":0.0192},{"k":8,"m":"T","n":16,"v":0.0237},{"k":8,"m":"T","n":18,"v":0.0226},{"k":8,"m":"T","n":20,"v":0.0192},{"k":8,"m":"T","n":24,"v":0.0214},{"k":8,"m":"T","n":30,"v":0.0234},{"k":8,"m":"T","n":35,"v":0.0219},{"k":8,"m":"T","n":40,"v":0.0166},{"k":8,"m":"T","n":45,"v":0.0214},{"k":8,"m":"T","n":50,"v":0.0214},
{"k":16,"m":"P","n":10,"v":0.0065},{"k":16,"m":"P","n":12,"v":0.0083},{"k":16,"m":"P","n":14,"v":0.0090},{"k":16,"m":"P","n":16,"v":0.0106},{"k":16,"m":"P","n":18,"v":0.0116},{"k":16,"m":"P","n":20,"v":0.0106},{"k":16,"m":"P","n":24,"v":0.0110},{"k":16,"m":"P","n":30,"v":0.0110},{"k":16,"m":"P","n":35,"v":0.0109},{"k":16,"m":"P","n":40,"v":0.0072},{"k":16,"m":"P","n":45,"v":0.0094},{"k":16,"m":"P","n":50,"v":0.0090},
{"k":16,"m":"E","n":10,"v":0.0267},{"k":16,"m":"E","n":12,"v":0.0223},{"k":16,"m":"E","n":14,"v":0.0271},{"k":16,"m":"E","n":16,"v":0.0247},{"k":16,"m":"E","n":18,"v":0.0249},{"k":16,"m":"E","n":20,"v":0.0253},{"k":16,"m":"E","n":24,"v":0.0249},{"k":16,"m":"E","n":30,"v":0.0271},{"k":16,"m":"E","n":35,"v":0.0229},{"k":16,"m":"E","n":40,"v":0.0181},{"k":16,"m":"E","n":45,"v":0.0219},{"k":16,"m":"E","n":50,"v":0.0214},
{"k":16,"m":"T","n":10,"v":0.0090},{"k":16,"m":"T","n":12,"v":0.0078},{"k":16,"m":"T","n":14,"v":0.0083},{"k":16,"m":"T","n":16,"v":0.0087},{"k":16,"m":"T","n":18,"v":0.0090},{"k":16,"m":"T","n":20,"v":0.0090},{"k":16,"m":"T","n":24,"v":0.0106},{"k":16,"m":"T","n":30,"v":0.0103},{"k":16,"m":"T","n":35,"v":0.0098},{"k":16,"m":"T","n":40,"v":0.0075},{"k":16,"m":"T","n":45,"v":0.0113},{"k":16,"m":"T","n":50,"v":0.0101},
{"k":32,"m":"P","n":10,"v":0.0030},{"k":32,"m":"P","n":12,"v":0.0038},{"k":32,"m":"P","n":14,"v":0.0041},{"k":32,"m":"P","n":16,"v":0.0039},{"k":32,"m":"P","n":18,"v":0.0057},{"k":32,"m":"P","n":20,"v":0.0035},{"k":32,"m":"P","n":24,"v":0.0056},{"k":32,"m":"P","n":30,"v":0.0053},{"k":32,"m":"P","n":35,"v":0.0045},{"k":32,"m":"P","n":40,"v":0.0042},{"k":32,"m":"P","n":45,"v":0.0042},{"k":32,"m":"P","n":50,"v":0.0042},
{"k":32,"m":"E","n":10,"v":0.0121},{"k":32,"m":"E","n":12,"v":0.0140},{"k":32,"m":"E","n":14,"v":0.0154},{"k":32,"m":"E","n":16,"v":0.0148},{"k":32,"m":"E","n":18,"v":0.0158},{"k":32,"m":"E","n":20,"v":0.0148},{"k":32,"m":"E","n":24,"v":0.0146},{"k":32,"m":"E","n":30,"v":0.0140},{"k":32,"m":"E","n":35,"v":0.0136},{"k":32,"m":"E","n":40,"v":0.0112},{"k":32,"m":"E","n":45,"v":0.0121},{"k":32,"m":"E","n":50,"v":0.0106},
{"k":32,"m":"T","n":10,"v":0.0011},{"k":32,"m":"T","n":12,"v":0.0033},{"k":32,"m":"T","n":14,"v":0.0030},{"k":32,"m":"T","n":16,"v":0.0038},{"k":32,"m":"T","n":18,"v":0.0042},{"k":32,"m":"T","n":20,"v":0.0030},{"k":32,"m":"T","n":24,"v":0.0057},{"k":32,"m":"T","n":30,"v":0.0050},{"k":32,"m":"T","n":35,"v":0.0045},{"k":32,"m":"T","n":40,"v":0.0036},{"k":32,"m":"T","n":45,"v":0.0045},{"k":32,"m":"T","n":50,"v":0.0042}
],
"f":[
{"k":4,"m":"P","n":10,"v":0.0538},{"k":4,"m":"P","n":12,"v":0.0538},{"k":4,"m":"P","n":14,"v":0.0525},{"k":4,"m":"P","n":16,"v":0.0516},{"k":4,"m":"P","n":18,"v":0.0501},{"k":4,"m":"P","n":20,"v":0.0513},{"k":4,"m":"P","n":24,"v":0.0460},{"k":4,"m":"P","n":30,"v":0.0550},{"k":4,"m":"P","n":35,"v":0.0475},{"k":4,"m":"P","n":40,"v":0.0422},{"k":4,"m":"P","n":45,"v":0.0468},{"k":4,"m":"P","n":50,"v":0.0486},
{"k":4,"m":"E","n":10,"v":0.0667},{"k":4,"m":"E","n":12,"v":0.0662},{"k":4,"m":"E","n":14,"v":0.0653},{"k":4,"m":"E","n":16,"v":0.0624},{"k":4,"m":"E","n":18,"v":0.0615},{"k":4,"m":"E","n":20,"v":0.0649},{"k":4,"m":"E","n":24,"v":0.0584},{"k":4,"m":"E","n":30,"v":0.0703},{"k":4,"m":"E","n":35,"v":0.0591},{"k":4,"m":"E","n":40,"v":0.0528},{"k":4,"m":"E","n":45,"v":0.0609},{"k":4,"m":"E","n":50,"v":0.0618},
{"k":4,"m":"T","n":10,"v":0.0501},{"k":4,"m":"T","n":12,"v":0.0486},{"k":4,"m":"T","n":14,"v":0.0505},{"k":4,"m":"T","n":16,"v":0.0501},{"k":4,"m":"T","n":18,"v":0.0448},{"k":4,"m":"T","n":20,"v":0.0501},{"k":4,"m":"T","n":24,"v":0.0505},{"k":4,"m":"T","n":30,"v":0.0558},{"k":4,"m":"T","n":35,"v":0.0535},{"k":4,"m":"T","n":40,"v":0.0413},{"k":4,"m":"T","n":45,"v":0.0513},{"k":4,"m":"T","n":50,"v":0.0489},
{"k":5,"m":"P","n":10,"v":0.0400},{"k":5,"m":"P","n":12,"v":0.0419},{"k":5,"m":"P","n":14,"v":0.0425},{"k":5,"m":"P","n":16,"v":0.0395},{"k":5,"m":"P","n":18,"v":0.0370},{"k":5,"m":"P","n":20,"v":0.0404},{"k":5,"m":"P","n":24,"v":0.0377},{"k":5,"m":"P","n":30,"v":0.0419},{"k":5,"m":"P","n":35,"v":0.0350},{"k":5,"m":"P","n":40,"v":0.0308},{"k":5,"m":"P","n":45,"v":0.0362},{"k":5,"m":"P","n":50,"v":0.0350},
{"k":5,"m":"E","n":10,"v":0.0513},{"k":5,"m":"E","n":12,"v":0.0513},{"k":5,"m":"E","n":14,"v":0.0519},{"k":5,"m":"E","n":16,"v":0.0510},{"k":5,"m":"E","n":18,"v":0.0495},{"k":5,"m":"E","n":20,"v":0.0531},{"k":5,"m":"E","n":24,"v":0.0456},{"k":5,"m":"E","n":30,"v":0.0561},{"k":5,"m":"E","n":35,"v":0.0471},{"k":5,"m":"E","n":40,"v":0.0413},{"k":5,"m":"E","n":45,"v":0.0460},{"k":5,"m":"E","n":50,"v":0.0486},
{"k":5,"m":"T","n":10,"v":0.0374},{"k":5,"m":"T","n":12,"v":0.0354},{"k":5,"m":"T","n":14,"v":0.0392},{"k":5,"m":"T","n":16,"v":0.0370},{"k":5,"m":"T","n":18,"v":0.0370},{"k":5,"m":"T","n":20,"v":0.0377},{"k":5,"m":"T","n":24,"v":0.0344},{"k":5,"m":"T","n":30,"v":0.0430},{"k":5,"m":"T","n":35,"v":0.0370},{"k":5,"m":"T","n":40,"v":0.0309},{"k":5,"m":"T","n":45,"v":0.0382},{"k":5,"m":"T","n":50,"v":0.0367},
{"k":8,"m":"P","n":10,"v":0.0201},{"k":8,"m":"P","n":12,"v":0.0226},{"k":8,"m":"P","n":14,"v":0.0249},{"k":8,"m":"P","n":16,"v":0.0234},{"k":8,"m":"P","n":18,"v":0.0223},{"k":8,"m":"P","n":20,"v":0.0234},{"k":8,"m":"P","n":24,"v":0.0226},{"k":8,"m":"P","n":30,"v":0.0241},{"k":8,"m":"P","n":35,"v":0.0211},{"k":8,"m":"P","n":40,"v":0.0169},{"k":8,"m":"P","n":45,"v":0.0204},{"k":8,"m":"P","n":50,"v":0.0193},
{"k":8,"m":"E","n":10,"v":0.0312},{"k":8,"m":"E","n":12,"v":0.0314},{"k":8,"m":"E","n":14,"v":0.0347},{"k":8,"m":"E","n":16,"v":0.0320},{"k":8,"m":"E","n":18,"v":0.0309},{"k":8,"m":"E","n":20,"v":0.0324},{"k":8,"m":"E","n":24,"v":0.0312},{"k":8,"m":"E","n":30,"v":0.0373},{"k":8,"m":"E","n":35,"v":0.0290},{"k":8,"m":"E","n":40,"v":0.0246},{"k":8,"m":"E","n":45,"v":0.0314},{"k":8,"m":"E","n":50,"v":0.0299},
{"k":8,"m":"T","n":10,"v":0.0219},{"k":8,"m":"T","n":12,"v":0.0196},{"k":8,"m":"T","n":14,"v":0.0204},{"k":8,"m":"T","n":16,"v":0.0214},{"k":8,"m":"T","n":18,"v":0.0222},{"k":8,"m":"T","n":20,"v":0.0204},{"k":8,"m":"T","n":24,"v":0.0211},{"k":8,"m":"T","n":30,"v":0.0249},{"k":8,"m":"T","n":35,"v":0.0208},{"k":8,"m":"T","n":40,"v":0.0178},{"k":8,"m":"T","n":45,"v":0.0219},{"k":8,"m":"T","n":50,"v":0.0214},
{"k":16,"m":"P","n":10,"v":0.0065},{"k":16,"m":"P","n":12,"v":0.0090},{"k":16,"m":"P","n":14,"v":0.0094},{"k":16,"m":"P","n":16,"v":0.0109},{"k":16,"m":"P","n":18,"v":0.0116},{"k":16,"m":"P","n":20,"v":0.0104},{"k":16,"m":"P","n":24,"v":0.0110},{"k":16,"m":"P","n":30,"v":0.0110},{"k":16,"m":"P","n":35,"v":0.0109},{"k":16,"m":"P","n":40,"v":0.0072},{"k":16,"m":"P","n":45,"v":0.0094},{"k":16,"m":"P","n":50,"v":0.0090},
{"k":16,"m":"E","n":10,"v":0.0124},{"k":16,"m":"E","n":12,"v":0.0158},{"k":16,"m":"E","n":14,"v":0.0173},{"k":16,"m":"E","n":16,"v":0.0169},{"k":16,"m":"E","n":18,"v":0.0178},{"k":16,"m":"E","n":20,"v":0.0173},{"k":16,"m":"E","n":24,"v":0.0176},{"k":16,"m":"E","n":30,"v":0.0176},{"k":16,"m":"E","n":35,"v":0.0170},{"k":16,"m":"E","n":40,"v":0.0133},{"k":16,"m":"E","n":45,"v":0.0151},{"k":16,"m":"E","n":50,"v":0.0142},
{"k":16,"m":"T","n":10,"v":0.0065},{"k":16,"m":"T","n":12,"v":0.0071},{"k":16,"m":"T","n":14,"v":0.0075},{"k":16,"m":"T","n":16,"v":0.0087},{"k":16,"m":"T","n":18,"v":0.0106},{"k":16,"m":"T","n":20,"v":0.0087},{"k":16,"m":"T","n":24,"v":0.0106},{"k":16,"m":"T","n":30,"v":0.0101},{"k":16,"m":"T","n":35,"v":0.0094},{"k":16,"m":"T","n":40,"v":0.0068},{"k":16,"m":"T","n":45,"v":0.0106},{"k":16,"m":"T","n":50,"v":0.0098},
{"k":32,"m":"P","n":10,"v":0.0030},{"k":32,"m":"P","n":12,"v":0.0041},{"k":32,"m":"P","n":14,"v":0.0045},{"k":32,"m":"P","n":16,"v":0.0042},{"k":32,"m":"P","n":18,"v":0.0060},{"k":32,"m":"P","n":20,"v":0.0038},{"k":32,"m":"P","n":24,"v":0.0053},{"k":32,"m":"P","n":30,"v":0.0053},{"k":32,"m":"P","n":35,"v":0.0045},{"k":32,"m":"P","n":40,"v":0.0041},{"k":32,"m":"P","n":45,"v":0.0041},{"k":32,"m":"P","n":50,"v":0.0041},
{"k":32,"m":"E","n":10,"v":0.0063},{"k":32,"m":"E","n":12,"v":0.0083},{"k":32,"m":"E","n":14,"v":0.0083},{"k":32,"m":"E","n":16,"v":0.0090},{"k":32,"m":"E","n":18,"v":0.0110},{"k":32,"m":"E","n":20,"v":0.0083},{"k":32,"m":"E","n":24,"v":0.0098},{"k":32,"m":"E","n":30,"v":0.0094},{"k":32,"m":"E","n":35,"v":0.0094},{"k":32,"m":"E","n":40,"v":0.0068},{"k":32,"m":"E","n":45,"v":0.0083},{"k":32,"m":"E","n":50,"v":0.0068},
{"k":32,"m":"T","n":10,"v":0.0000},{"k":32,"m":"T","n":12,"v":0.0026},{"k":32,"m":"T","n":14,"v":0.0027},{"k":32,"m":"T","n":16,"v":0.0030},{"k":32,"m":"T","n":18,"v":0.0041},{"k":32,"m":"T","n":20,"v":0.0030},{"k":32,"m":"T","n":24,"v":0.0065},{"k":32,"m":"T","n":30,"v":0.0051},{"k":32,"m":"T","n":35,"v":0.0048},{"k":32,"m":"T","n":40,"v":0.0036},{"k":32,"m":"T","n":45,"v":0.0042},{"k":32,"m":"T","n":50,"v":0.0042}
]
},
"columns":2,
"spacing":{"row":21.6,"column":42},
"resolve":{"legend":{"color":"independent","strokeDash":"independent","opacity":"independent"}},
"concat":[
{"title":"ρ = 0.5,\u2002 σ = 0.1","width":333,"height":239,"layer":[
{"data":{"name":"a"},"mark":{"type":"line","strokeWidth":1.3},"encoding":{"x":{"field":"n","type":"quantitative","scale":{"domain":[8.4,51.6],"nice":false,"zero":false},"axis":{"values":[10,20,30,40,50],"title":"Sample size"}},"y":{"field":"v","type":"quantitative","scale":{"domain":[-0.004,0.104],"nice":false,"zero":false},"axis":{"values":[0,0.02,0.04,0.06,0.08,0.1],"format":".2f","title":null}},"color":{"field":"k","type":"nominal","scale":{"domain":[4,5,8,16,32],"range":["#c8c8c8","#b2b2b2","#999999","#5c5c5c","#262626"]},"legend":{"orient":"none","legendX":275,"legendY":3,"title":null,"symbolType":"M-2,0L2,0","symbolSize":100,"symbolStrokeWidth":1.6,"rowPadding":-0.3,"labelOffset":11,"labelExpr":"'k=' + datum.label"}},"strokeDash":{"field":"m","type":"nominal","scale":{"domain":["P","E","T"],"range":[[1,0],[6,4],[1.5,4]]},"legend":{"orient":"none","legendX":43.5,"legendY":3.5,"title":null,"symbolType":"M-2.16,0L2.16,0M-0.44,0A0.44,0.44,0,1,0,0.44,0A0.44,0.44,0,1,0,-0.44,0Z","symbolSize":100,"symbolStrokeColor":"#000","symbolFillColor":"#000","symbolStrokeWidth":1.5,"rowPadding":-2.5,"labelOffset":13.5,"labelExpr":"datum.label == 'P' ? 'Profile Lik' : datum.label == 'E' ? 'Estimated' : 'True Lik'"}}}},
{"data":{"name":"a"},"mark":{"type":"circle","size":13,"opacity":1},"encoding":{"x":{"field":"n","type":"quantitative"},"y":{"field":"v","type":"quantitative"},"color":{"field":"k","type":"nominal","legend":null}}},
{"data":{"name":"al"},"mark":{"type":"rule","color":"#ff3030","strokeWidth":1},"encoding":{"x":{"datum":10},"x2":{"datum":50},"y":{"field":"a","type":"quantitative"}}},
{"data":{"name":"tA"},"mark":{"type":"line","color":"#0000ff","strokeWidth":2.4},"encoding":{"x":{"field":"n","type":"quantitative"},"y":{"field":"v","type":"quantitative"},"opacity":{"field":"t","type":"ordinal","scale":{"domain":["TOST"],"range":[1]},"legend":{"orient":"none","legendX":42.7,"legendY":43.5,"title":null,"symbolType":"M-2.67,0L2.67,0M-0.6,-0.6L0.6,-0.6L0.6,0.6L-0.6,0.6Z","symbolSize":100,"symbolStrokeColor":"#0000ff","symbolFillColor":"#0000ff","symbolStrokeWidth":2.4,"labelOffset":21,"labelFontSize":12.5}}}},
{"data":{"name":"tA"},"mark":{"type":"square","size":36,"color":"#0000ff","filled":true,"opacity":1},"encoding":{"x":{"field":"n","type":"quantitative"},"y":{"field":"v","type":"quantitative"}}},
{"data":{"name":"a1"},"mark":{"type":"text","color":"#ff0000","fontSize":12,"dy":-10.5},"encoding":{"x":{"datum":45.9},"y":{"field":"a","type":"quantitative"},"text":{"field":"lab"}}},
{"data":{"name":"a2"},"mark":{"type":"text","color":"#ff0000","fontSize":12,"dy":-6},"encoding":{"x":{"datum":45.9},"y":{"field":"a","type":"quantitative"},"text":{"field":"lab"}}}
]},
{"title":"ρ = 0.7,\u2002 σ = 0.1","width":333,"height":239,"layer":[
{"data":{"name":"b"},"mark":{"type":"line","strokeWidth":1.3},"encoding":{"x":{"field":"n","type":"quantitative","scale":{"domain":[8.4,51.6],"nice":false,"zero":false},"axis":{"values":[10,20,30,40,50],"title":"Sample size"}},"y":{"field":"v","type":"quantitative","scale":{"domain":[-0.004,0.104],"nice":false,"zero":false},"axis":{"values":[0,0.02,0.04,0.06,0.08,0.1],"format":".2f","title":null}},"color":{"field":"k","type":"nominal","scale":{"domain":[4,5,8,16,32],"range":["#c8c8c8","#b2b2b2","#999999","#5c5c5c","#262626"]},"legend":{"orient":"none","legendX":275,"legendY":3,"title":null,"symbolType":"M-2,0L2,0","symbolSize":100,"symbolStrokeWidth":1.6,"rowPadding":-0.3,"labelOffset":11,"labelExpr":"'k=' + datum.label"}},"strokeDash":{"field":"m","type":"nominal","scale":{"domain":["P","E","T"],"range":[[1,0],[6,4],[1.5,4]]},"legend":{"orient":"none","legendX":43.5,"legendY":3.5,"title":null,"symbolType":"M-2.16,0L2.16,0M-0.44,0A0.44,0.44,0,1,0,0.44,0A0.44,0.44,0,1,0,-0.44,0Z","symbolSize":100,"symbolStrokeColor":"#000","symbolFillColor":"#000","symbolStrokeWidth":1.5,"rowPadding":-2.5,"labelOffset":13.5,"labelExpr":"datum.label == 'P' ? 'Profile Lik' : datum.label == 'E' ? 'Estimated' : 'True Lik'"}}}},
{"data":{"name":"b"},"mark":{"type":"circle","size":13,"opacity":1},"encoding":{"x":{"field":"n","type":"quantitative"},"y":{"field":"v","type":"quantitative"},"color":{"field":"k","type":"nominal","legend":null}}},
{"data":{"name":"al"},"mark":{"type":"rule","color":"#ff3030","strokeWidth":1},"encoding":{"x":{"datum":10},"x2":{"datum":50},"y":{"field":"a","type":"quantitative"}}},
{"data":{"name":"tA"},"mark":{"type":"line","color":"#0000ff","strokeWidth":2.4},"encoding":{"x":{"field":"n","type":"quantitative"},"y":{"field":"v","type":"quantitative"},"opacity":{"field":"t","type":"ordinal","scale":{"domain":["TOST"],"range":[1]},"legend":{"orient":"none","legendX":42.7,"legendY":43.5,"title":null,"symbolType":"M-2.67,0L2.67,0M-0.6,-0.6L0.6,-0.6L0.6,0.6L-0.6,0.6Z","symbolSize":100,"symbolStrokeColor":"#0000ff","symbolFillColor":"#0000ff","symbolStrokeWidth":2.4,"labelOffset":21,"labelFontSize":12.5}}}},
{"data":{"name":"tA"},"mark":{"type":"square","size":36,"color":"#0000ff","filled":true,"opacity":1},"encoding":{"x":{"field":"n","type":"quantitative"},"y":{"field":"v","type":"quantitative"}}},
{"data":{"name":"a1"},"mark":{"type":"text","color":"#ff0000","fontSize":12,"dy":-10.5},"encoding":{"x":{"datum":45.9},"y":{"field":"a","type":"quantitative"},"text":{"field":"lab"}}},
{"data":{"name":"a2"},"mark":{"type":"text","color":"#ff0000","fontSize":12,"dy":-6},"encoding":{"x":{"datum":45.9},"y":{"field":"a","type":"quantitative"},"text":{"field":"lab"}}}
]},
{"title":"ρ = 0.5,\u2002 σ = 0.2","width":333,"height":239,"layer":[
{"data":{"name":"c"},"mark":{"type":"line","strokeWidth":1.3},"encoding":{"x":{"field":"n","type":"quantitative","scale":{"domain":[8.4,51.6],"nice":false,"zero":false},"axis":{"values":[10,20,30,40,50],"title":"Sample size"}},"y":{"field":"v","type":"quantitative","scale":{"domain":[-0.004,0.104],"nice":false,"zero":false},"axis":{"values":[0,0.02,0.04,0.06,0.08,0.1],"format":".2f","title":null}},"color":{"field":"k","type":"nominal","scale":{"domain":[4,5,8,16,32],"range":["#c8c8c8","#b2b2b2","#999999","#5c5c5c","#262626"]},"legend":{"orient":"none","legendX":275,"legendY":3,"title":null,"symbolType":"M-2,0L2,0","symbolSize":100,"symbolStrokeWidth":1.6,"rowPadding":-0.3,"labelOffset":11,"labelExpr":"'k=' + datum.label"}},"strokeDash":{"field":"m","type":"nominal","scale":{"domain":["P","E","T"],"range":[[1,0],[6,4],[1.5,4]]},"legend":{"orient":"none","legendX":43.5,"legendY":3.5,"title":null,"symbolType":"M-2.16,0L2.16,0M-0.44,0A0.44,0.44,0,1,0,0.44,0A0.44,0.44,0,1,0,-0.44,0Z","symbolSize":100,"symbolStrokeColor":"#000","symbolFillColor":"#000","symbolStrokeWidth":1.5,"rowPadding":-2.5,"labelOffset":13.5,"labelExpr":"datum.label == 'P' ? 'Profile Lik' : datum.label == 'E' ? 'Estimated' : 'True Lik'"}}}},
{"data":{"name":"c"},"mark":{"type":"circle","size":13,"opacity":1},"encoding":{"x":{"field":"n","type":"quantitative"},"y":{"field":"v","type":"quantitative"},"color":{"field":"k","type":"nominal","legend":null}}},
{"data":{"name":"al"},"mark":{"type":"rule","color":"#ff3030","strokeWidth":1},"encoding":{"x":{"datum":10},"x2":{"datum":50},"y":{"field":"a","type":"quantitative"}}},
{"data":{"name":"tA"},"mark":{"type":"line","color":"#0000ff","strokeWidth":2.4},"encoding":{"x":{"field":"n","type":"quantitative"},"y":{"field":"v","type":"quantitative"},"opacity":{"field":"t","type":"ordinal","scale":{"domain":["TOST"],"range":[1]},"legend":{"orient":"none","legendX":42.7,"legendY":43.5,"title":null,"symbolType":"M-2.67,0L2.67,0M-0.6,-0.6L0.6,-0.6L0.6,0.6L-0.6,0.6Z","symbolSize":100,"symbolStrokeColor":"#0000ff","symbolFillColor":"#0000ff","symbolStrokeWidth":2.4,"labelOffset":21,"labelFontSize":12.5}}}},
{"data":{"name":"tA"},"mark":{"type":"square","size":36,"color":"#0000ff","filled":true,"opacity":1},"encoding":{"x":{"field":"n","type":"quantitative"},"y":{"field":"v","type":"quantitative"}}},
{"data":{"name":"a1"},"mark":{"type":"text","color":"#ff0000","fontSize":12,"dy":-10.5},"encoding":{"x":{"datum":45.9},"y":{"field":"a","type":"quantitative"},"text":{"field":"lab"}}},
{"data":{"name":"a2"},"mark":{"type":"text","color":"#ff0000","fontSize":12,"dy":-6},"encoding":{"x":{"datum":45.9},"y":{"field":"a","type":"quantitative"},"text":{"field":"lab"}}}
]},
{"title":"ρ = 0.7,\u2002 σ = 0.2","width":333,"height":239,"layer":[
{"data":{"name":"d"},"mark":{"type":"line","strokeWidth":1.3},"encoding":{"x":{"field":"n","type":"quantitative","scale":{"domain":[8.4,51.6],"nice":false,"zero":false},"axis":{"values":[10,20,30,40,50],"title":"Sample size"}},"y":{"field":"v","type":"quantitative","scale":{"domain":[-0.004,0.104],"nice":false,"zero":false},"axis":{"values":[0,0.02,0.04,0.06,0.08,0.1],"format":".2f","title":null}},"color":{"field":"k","type":"nominal","scale":{"domain":[4,5,8,16,32],"range":["#c8c8c8","#b2b2b2","#999999","#5c5c5c","#262626"]},"legend":{"orient":"none","legendX":275,"legendY":3,"title":null,"symbolType":"M-2,0L2,0","symbolSize":100,"symbolStrokeWidth":1.6,"rowPadding":-0.3,"labelOffset":11,"labelExpr":"'k=' + datum.label"}},"strokeDash":{"field":"m","type":"nominal","scale":{"domain":["P","E","T"],"range":[[1,0],[6,4],[1.5,4]]},"legend":{"orient":"none","legendX":43.5,"legendY":3.5,"title":null,"symbolType":"M-2.16,0L2.16,0M-0.44,0A0.44,0.44,0,1,0,0.44,0A0.44,0.44,0,1,0,-0.44,0Z","symbolSize":100,"symbolStrokeColor":"#000","symbolFillColor":"#000","symbolStrokeWidth":1.5,"rowPadding":-2.5,"labelOffset":13.5,"labelExpr":"datum.label == 'P' ? 'Profile Lik' : datum.label == 'E' ? 'Estimated' : 'True Lik'"}}}},
{"data":{"name":"d"},"mark":{"type":"circle","size":13,"opacity":1},"encoding":{"x":{"field":"n","type":"quantitative"},"y":{"field":"v","type":"quantitative"},"color":{"field":"k","type":"nominal","legend":null}}},
{"data":{"name":"al"},"mark":{"type":"rule","color":"#ff3030","strokeWidth":1},"encoding":{"x":{"datum":10},"x2":{"datum":50},"y":{"field":"a","type":"quantitative"}}},
{"data":{"name":"tA"},"mark":{"type":"line","color":"#0000ff","strokeWidth":2.4},"encoding":{"x":{"field":"n","type":"quantitative"},"y":{"field":"v","type":"quantitative"},"opacity":{"field":"t","type":"ordinal","scale":{"domain":["TOST"],"range":[1]},"legend":{"orient":"none","legendX":42.7,"legendY":43.5,"title":null,"symbolType":"M-2.67,0L2.67,0M-0.6,-0.6L0.6,-0.6L0.6,0.6L-0.6,0.6Z","symbolSize":100,"symbolStrokeColor":"#0000ff","symbolFillColor":"#0000ff","symbolStrokeWidth":2.4,"labelOffset":21,"labelFontSize":12.5}}}},
{"data":{"name":"tA"},"mark":{"type":"square","size":36,"color":"#0000ff","filled":true,"opacity":1},"encoding":{"x":{"field":"n","type":"quantitative"},"y":{"field":"v","type":"quantitative"}}},
{"data":{"name":"a1"},"mark":{"type":"text","color":"#ff0000","fontSize":12,"dy":-10.5},"encoding":{"x":{"datum":45.9},"y":{"field":"a","type":"quantitative"},"text":{"field":"lab"}}},
{"data":{"name":"a2"},"mark":{"type":"text","color":"#ff0000","fontSize":12,"dy":-6},"encoding":{"x":{"datum":45.9},"y":{"field":"a","type":"quantitative"},"text":{"field":"lab"}}}
]},
{"title":"ρ = 0.5,\u2002 σ = 0.3","width":333,"height":239,"layer":[
{"data":{"name":"e"},"mark":{"type":"line","strokeWidth":1.3},"encoding":{"x":{"field":"n","type":"quantitative","scale":{"domain":[8.4,51.6],"nice":false,"zero":false},"axis":{"values":[10,20,30,40,50],"title":"Sample size"}},"y":{"field":"v","type":"quantitative","scale":{"domain":[-0.004,0.104],"nice":false,"zero":false},"axis":{"values":[0,0.02,0.04,0.06,0.08,0.1],"format":".2f","title":null}},"color":{"field":"k","type":"nominal","scale":{"domain":[4,5,8,16,32],"range":["#c8c8c8","#b2b2b2","#999999","#5c5c5c","#262626"]},"legend":{"orient":"none","legendX":275,"legendY":3,"title":null,"symbolType":"M-2,0L2,0","symbolSize":100,"symbolStrokeWidth":1.6,"rowPadding":-0.3,"labelOffset":11,"labelExpr":"'k=' + datum.label"}},"strokeDash":{"field":"m","type":"nominal","scale":{"domain":["P","E","T"],"range":[[1,0],[6,4],[1.5,4]]},"legend":{"orient":"none","legendX":43.5,"legendY":3.5,"title":null,"symbolType":"M-2.16,0L2.16,0M-0.44,0A0.44,0.44,0,1,0,0.44,0A0.44,0.44,0,1,0,-0.44,0Z","symbolSize":100,"symbolStrokeColor":"#000","symbolFillColor":"#000","symbolStrokeWidth":1.5,"rowPadding":-2.5,"labelOffset":13.5,"labelExpr":"datum.label == 'P' ? 'Profile Lik' : datum.label == 'E' ? 'Estimated' : 'True Lik'"}}}},
{"data":{"name":"e"},"mark":{"type":"circle","size":13,"opacity":1},"encoding":{"x":{"field":"n","type":"quantitative"},"y":{"field":"v","type":"quantitative"},"color":{"field":"k","type":"nominal","legend":null}}},
{"data":{"name":"al"},"mark":{"type":"rule","color":"#ff3030","strokeWidth":1},"encoding":{"x":{"datum":10},"x2":{"datum":50},"y":{"field":"a","type":"quantitative"}}},
{"data":{"name":"tB"},"mark":{"type":"line","color":"#0000ff","strokeWidth":2.4},"encoding":{"x":{"field":"n","type":"quantitative"},"y":{"field":"v","type":"quantitative"},"opacity":{"field":"t","type":"ordinal","scale":{"domain":["TOST"],"range":[1]},"legend":{"orient":"none","legendX":42.7,"legendY":43.5,"title":null,"symbolType":"M-2.67,0L2.67,0M-0.6,-0.6L0.6,-0.6L0.6,0.6L-0.6,0.6Z","symbolSize":100,"symbolStrokeColor":"#0000ff","symbolFillColor":"#0000ff","symbolStrokeWidth":2.4,"labelOffset":21,"labelFontSize":12.5}}}},
{"data":{"name":"tB"},"mark":{"type":"square","size":36,"color":"#0000ff","filled":true,"opacity":1},"encoding":{"x":{"field":"n","type":"quantitative"},"y":{"field":"v","type":"quantitative"}}},
{"data":{"name":"a1"},"mark":{"type":"text","color":"#ff0000","fontSize":12,"dy":-10.5},"encoding":{"x":{"datum":45.9},"y":{"field":"a","type":"quantitative"},"text":{"field":"lab"}}},
{"data":{"name":"a2"},"mark":{"type":"text","color":"#ff0000","fontSize":12,"dy":-6},"encoding":{"x":{"datum":45.9},"y":{"field":"a","type":"quantitative"},"text":{"field":"lab"}}}
]},
{"title":"ρ = 0.7,\u2002 σ = 0.3","width":333,"height":239,"layer":[
{"data":{"name":"f"},"mark":{"type":"line","strokeWidth":1.3},"encoding":{"x":{"field":"n","type":"quantitative","scale":{"domain":[8.4,51.6],"nice":false,"zero":false},"axis":{"values":[10,20,30,40,50],"title":"Sample size"}},"y":{"field":"v","type":"quantitative","scale":{"domain":[-0.004,0.104],"nice":false,"zero":false},"axis":{"values":[0,0.02,0.04,0.06,0.08,0.1],"format":".2f","title":null}},"color":{"field":"k","type":"nominal","scale":{"domain":[4,5,8,16,32],"range":["#c8c8c8","#b2b2b2","#999999","#5c5c5c","#262626"]},"legend":{"orient":"none","legendX":275,"legendY":3,"title":null,"symbolType":"M-2,0L2,0","symbolSize":100,"symbolStrokeWidth":1.6,"rowPadding":-0.3,"labelOffset":11,"labelExpr":"'k=' + datum.label"}},"strokeDash":{"field":"m","type":"nominal","scale":{"domain":["P","E","T"],"range":[[1,0],[6,4],[1.5,4]]},"legend":{"orient":"none","legendX":43.5,"legendY":3.5,"title":null,"symbolType":"M-2.16,0L2.16,0M-0.44,0A0.44,0.44,0,1,0,0.44,0A0.44,0.44,0,1,0,-0.44,0Z","symbolSize":100,"symbolStrokeColor":"#000","symbolFillColor":"#000","symbolStrokeWidth":1.5,"rowPadding":-2.5,"labelOffset":13.5,"labelExpr":"datum.label == 'P' ? 'Profile Lik' : datum.label == 'E' ? 'Estimated' : 'True Lik'"}}}},
{"data":{"name":"f"},"mark":{"type":"circle","size":13,"opacity":1},"encoding":{"x":{"field":"n","type":"quantitative"},"y":{"field":"v","type":"quantitative"},"color":{"field":"k","type":"nominal","legend":null}}},
{"data":{"name":"al"},"mark":{"type":"rule","color":"#ff3030","strokeWidth":1},"encoding":{"x":{"datum":10},"x2":{"datum":50},"y":{"field":"a","type":"quantitative"}}},
{"data":{"name":"tB"},"mark":{"type":"line","color":"#0000ff","strokeWidth":2.4},"encoding":{"x":{"field":"n","type":"quantitative"},"y":{"field":"v","type":"quantitative"},"opacity":{"field":"t","type":"ordinal","scale":{"domain":["TOST"],"range":[1]},"legend":{"orient":"none","legendX":42.7,"legendY":43.5,"title":null,"symbolType":"M-2.67,0L2.67,0M-0.6,-0.6L0.6,-0.6L0.6,0.6L-0.6,0.6Z","symbolSize":100,"symbolStrokeColor":"#0000ff","symbolFillColor":"#0000ff","symbolStrokeWidth":2.4,"labelOffset":21,"labelFontSize":12.5}}}},
{"data":{"name":"tB"},"mark":{"type":"square","size":36,"color":"#0000ff","filled":true,"opacity":1},"encoding":{"x":{"field":"n","type":"quantitative"},"y":{"field":"v","type":"quantitative"}}},
{"data":{"name":"a1"},"mark":{"type":"text","color":"#ff0000","fontSize":12,"dy":-10.5},"encoding":{"x":{"datum":45.9},"y":{"field":"a","type":"quantitative"},"text":{"field":"lab"}}},
{"data":{"name":"a2"},"mark":{"type":"text","color":"#ff0000","fontSize":12,"dy":-6},"encoding":{"x":{"datum":45.9},"y":{"field":"a","type":"quantitative"},"text":{"field":"lab"}}}
]}
],
"config":{
"view":{"stroke":"#333333","strokeWidth":1},
"axis":{"domain":false,"grid":false,"ticks":true,"tickColor":"#333333","labelFont":"Liberation Sans","labelFontSize":11,"labelColor":"#222222","titleFont":"Liberation Sans","titleFontSize":11.5,"titleFontWeight":"normal","titleColor":"#222222"},
"axisX":{"tickSize":6,"labelPadding":4,"titlePadding":13},
"axisY":{"tickSize":7,"labelPadding":6},
"legend":{"padding":0,"labelFont":"Liberation Sans","labelFontSize":11,"labelColor":"#111111","labelLimit":300},
"title":{"font":"Liberation Serif","fontSize":23,"fontWeight":"normal","color":"#000000","anchor":"middle","frame":"group","baseline":"alphabetic","offset":11},
"text":{"font":"Liberation Sans"}
}
}
